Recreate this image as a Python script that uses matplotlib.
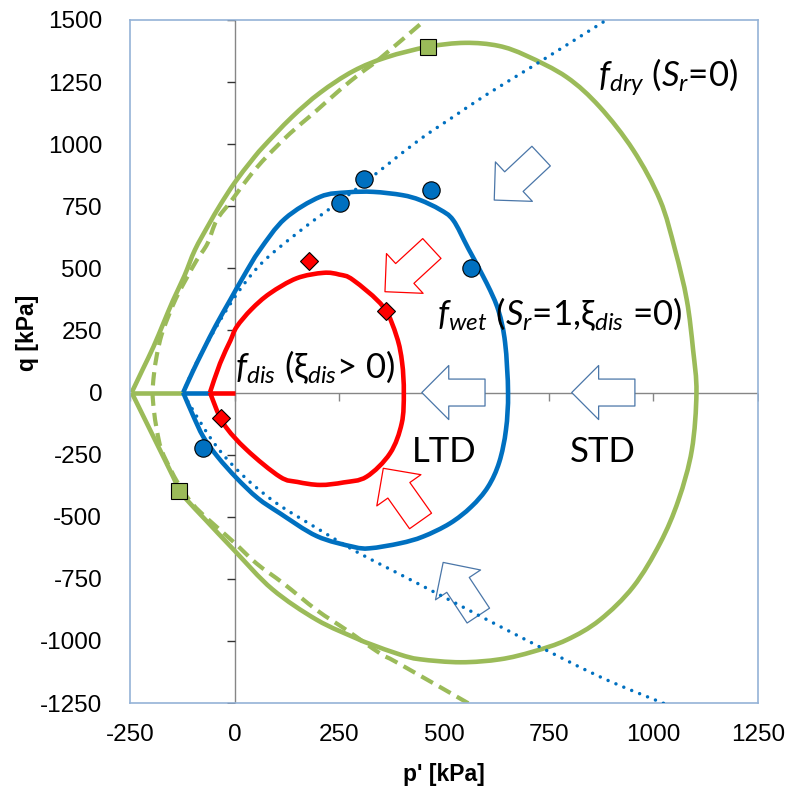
import numpy as np
import matplotlib
matplotlib.use('Agg')
import matplotlib.pyplot as plt
from matplotlib.patches import FancyArrowPatch, ArrowStyle, PathPatch
from matplotlib.path import Path

plt.rcParams['axes.unicode_minus'] = False
plt.rcParams['mathtext.fontset'] = 'custom'
plt.rcParams['mathtext.rm'] = 'Lato'
plt.rcParams['mathtext.it'] = 'Lato:italic'

# yield surfaces: first point is where the q = 0 lead-in starts, second is the apex
dry_p = [-123, -246, -220, -194, -170, -147, -120, -95, -62, -35, 0, 40, 68, 136, 204,
         283, 363, 462, 550, 630, 697, 793, 872, 952, 1016, 1052, 1080, 1095, 1103, 1092,
         1060, 1016, 952, 872, 793, 713, 634, 540, 443, 395, 323, 291, 196, 90, 0,
         -70, -110, -132, -147, -194, -246]
dry_q = [0, 0, 92, 184, 280, 372, 470, 574, 676, 754, 845, 933, 989, 1108, 1207,
         1294, 1350, 1392, 1408, 1396, 1356, 1270, 1150, 976, 775, 574, 372, 171, 0, -231,
         -433, -607, -782, -916, -996, -1043, -1074, -1086, -1074, -1055, -1012, -990, -915, -792, -637,
         -512, -440, -395, -339, -178, 0]

wet_p = [-59, -123, -100, -75, -45, -11, 22, 60, 120, 204, 270, 331, 400, 443, 490, 522,
         558, 602, 630, 646, 653, 648, 632, 605, 565, 514, 450, 395, 323, 283, 196, 108,
         55, 5, -40, -75, -100, -123]
wet_q = [0, 0, 85, 171, 270, 372, 470, 574, 700, 788, 806, 808, 795, 775, 737, 694,
         580, 440, 330, 200, 0, -150, -280, -380, -460, -527, -580, -607, -627, -621, -578, -486,
         -425, -345, -260, -178, -90, 0]

dis_p = [0, -59, -35, -10, 5, 40, 84, 148, 212, 250, 283, 355, 387, 400, 404, 399, 371,
         315, 260, 204, 150, 108, 29, -27, -59]
dis_q = [0, 0, 117, 210, 265, 335, 399, 460, 482, 475, 453, 345, 225, 120, 0, -124, -245,
         -339, -362, -372, -360, -339, -231, -124, 0]

# critical state lines, upper and lower branches from the vertex
csl_dry_up_p = [-196, -193, -186, -175, -160, -140, -115, -90, -65, -43, -11, 5, 40, 76,
                132, 188, 251, 300, 347, 455]
csl_dry_up_q = [0, 70, 150, 230, 300, 380, 460, 535, 600, 694, 765, 802, 880, 949,
                1043, 1124, 1218, 1285, 1345, 1500]
csl_dry_lo_p = [-196, -193, -186, -175, -150, -128, -100, -67, -3, 52, 116, 196, 267,
                347, 391, 558]
csl_dry_lo_q = [0, -70, -150, -230, -320, -385, -450, -505, -601, -688, -768, -876, -956,
                -1050, -1090, -1251]
csl_wet_up_p = [-123, -113, -100, -82, -62, -40, -15, 15, 45, 70, 100, 148, 196, 250, 310,
                363, 443, 522, 602, 713, 888]
csl_wet_up_q = [0, 40, 90, 150, 210, 275, 345, 420, 485, 530, 575, 640, 702, 768, 845,
                915, 1020, 1110, 1200, 1315, 1500]
csl_wet_lo_p = [-123, -112, -98, -78, -55, -25, 10, 50, 108, 204, 291, 387, 522, 681, 872, 1024]
csl_wet_lo_q = [0, -35, -75, -130, -190, -255, -318, -380, -455, -554, -641, -725, -843,
                -983, -1144, -1251]

# test data
wet_pts_p = [252, 310, 470, 564, -75]
wet_pts_q = [762, 858, 815, 500, -225]
dis_pts_p = [177, 361, -33]
dis_pts_q = [529, 328, -104]
dry_pts_p = [462, -132]
dry_pts_q = [1392, -395]

# block arrows: (tail, tip) in kPa
blue_arrows = [((732, 952), (620, 775)),
               ((598, 0), (447, 0)),
               ((956, 0), (805, 0)),
               ((582, -898), (498, -684))]
red_arrows = [((471, 580), (359, 406)),
              ((444, -517), (355, -305))]

xticks = np.arange(-250, 1251, 250)
yticks = np.arange(-1250, 1501, 250)

green = '#9BBB59'
blue = '#0070C0'
red = '#FF0000'


def smooth(px, py):
    # smoothed line through the points (Catmull-Rom segments as cubic Beziers)
    pts = np.column_stack([px, py]).astype(float)
    n = len(pts)
    verts = [pts[0]]
    codes = [Path.MOVETO]
    for i in range(n - 1):
        p0 = pts[i - 1] if i > 0 else pts[i]
        p1, p2 = pts[i], pts[i + 1]
        p3 = pts[i + 2] if i + 2 < n else pts[i + 1]
        verts += [p1 + (p2 - p0) / 6, p2 - (p3 - p1) / 6, p2]
        codes += [Path.CURVE4] * 3
    return Path(verts, codes)


fig = plt.figure(figsize=(7.94, 7.94), dpi=100)
ax = fig.add_axes([130 / 794, 91 / 794, 628 / 794, 683 / 794])
ax.set_xlim(-250, 1250)
ax.set_ylim(-1250, 1500)

# axes through the origin with their own tick marks
ax.axhline(0, color='#868686', lw=1.0, zorder=1)
ax.axvline(0, color='#868686', lw=1.0, zorder=1)
ax.plot(np.zeros(len(yticks)), yticks, ls='', marker=0, ms=6, mew=1.0, color='#333333', zorder=1)
ax.plot(xticks, np.zeros(len(xticks)), ls='', marker=3, ms=6, mew=1.0, color='#868686', zorder=1)

lw = 3.3
for sp, sq, c in [(dry_p, dry_q, green), (wet_p, wet_q, blue), (dis_p, dis_q, red)]:
    ax.plot(sp[:2], sq[:2], color=c, lw=lw, solid_capstyle='butt', zorder=2)
    ax.add_patch(PathPatch(smooth(sp[1:], sq[1:]), fill=False, ec=c, lw=lw,
                           joinstyle='round', zorder=2))

dry_csl_p = csl_dry_lo_p[::-1] + csl_dry_up_p[1:]
dry_csl_q = csl_dry_lo_q[::-1] + csl_dry_up_q[1:]
ax.add_patch(PathPatch(smooth(dry_csl_p, dry_csl_q), fill=False, ec=green, lw=3.0,
                       ls=(0, (3.2, 1.7)), capstyle='butt', zorder=2))
wet_csl_p = csl_wet_lo_p[::-1] + csl_wet_up_p[1:]
wet_csl_q = csl_wet_lo_q[::-1] + csl_wet_up_q[1:]
ax.add_patch(PathPatch(smooth(wet_csl_p, wet_csl_q), fill=False, ec=blue, lw=2.5,
                       ls=(0, (0.01, 2.45)), capstyle='round', zorder=4))

style = ArrowStyle.Simple(head_length=19.4, head_width=38.9, tail_width=19.4)
for arrows, ec in [(blue_arrows, '#4A76A8'), (red_arrows, red)]:
    for tail, tip in arrows:
        ax.add_patch(FancyArrowPatch(tail, tip, arrowstyle=style, mutation_scale=1,
                                     shrinkA=0, shrinkB=0, fc='white', ec=ec, lw=0.9,
                                     zorder=3))

ax.plot(wet_pts_p, wet_pts_q, ls='', marker='o', ms=12.5, mfc=blue, mec='black', mew=0.8, zorder=5)
ax.plot(dis_pts_p, dis_pts_q, ls='', marker='D', ms=9, mfc=red, mec='black', mew=0.8, zorder=5)
ax.plot(dry_pts_p, dry_pts_q, ls='', marker='s', ms=11, mfc=green, mec='black', mew=0.8, zorder=5)

lab = dict(fontsize=25, family=['Lato', 'DejaVu Sans'], va='baseline', zorder=6)
ax.text(868, 1230, r'$f_{dry}$ ($S_r$=0)', ha='left', **lab)
ax.text(483, 272, r'$f_{wet}$ ($S_r$=1,ξ$_{dis}$ =0)', ha='left', **lab)
ax.text(0, 57, r'$f_{dis}$ (ξ$_{dis}$> 0)', ha='left', **lab)
ax.text(501, -280, 'LTD', ha='center', **lab)
ax.text(878, -280, 'STD', ha='center', **lab)

ax.set_xticks(xticks)
ax.set_yticks(yticks)
ax.tick_params(length=0, labelsize=17.5)
ax.tick_params(axis='y', pad=20)
ax.tick_params(axis='x', pad=15)
for t in ax.get_xticklabels() + ax.get_yticklabels():
    t.set_family('Liberation Sans')
for s in ax.spines.values():
    s.set_color('#95B3D7')
    s.set_linewidth(1.2)

ax.set_xlabel("p' [kPa]", fontsize=16.5, fontweight='bold', family='Liberation Sans', labelpad=12)
ax.set_ylabel('q [kPa]', fontsize=16.5, fontweight='bold', family='Liberation Sans')
ax.yaxis.set_label_coords(-0.145, 0.542)

fig.savefig('out.png', dpi=100)
